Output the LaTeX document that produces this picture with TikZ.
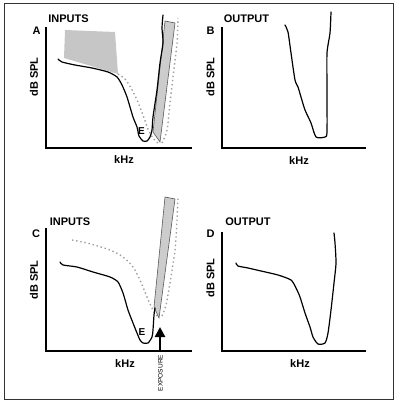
\documentclass[tikz,border=0pt]{standalone}
\usepackage{fontspec}
\setmainfont{Liberation Sans}
\usetikzlibrary{arrows.meta}
\tikzset{
  axis/.style={line width=1.4pt, black},
  curve/.style={line width=1.2pt, black, line join=round, line cap=round},
  dotline/.style={line width=1.4pt, gray!75, dash pattern=on 1.4pt off 2.8pt},
  band/.style={fill=gray!40, draw=gray!70!black, line width=0.6pt},
  patch/.style={fill=gray!45, draw=none},
  lbl/.style={font=\fontsize{11}{12}\selectfont\bfseries, inner sep=0pt},
  elbl/.style={font=\fontsize{10}{11}\selectfont\bfseries, inner sep=0pt},
  ylbl/.style={font=\fontsize{11}{12}\selectfont\bfseries, inner sep=0pt, rotate=90},
  exlbl/.style={font=\fontsize{6.5}{7}\selectfont, inner sep=0pt, rotate=90}
}
\begin{document}
\begin{tikzpicture}[x=1pt, y=-1pt]
\useasboundingbox (0,0) rectangle (398,404);
\draw[line width=0.9pt, black!80] (4,3) rectangle (393,399);

% ---------- Panel A ----------
\fill[patch] (65,30) -- (115,32) -- (118,74) -- (64,58) -- cycle;
\draw[dotline] plot[smooth, tension=0.5] coordinates {(118,74) (125,79) (131,88) (137,100) (143,115) (148,129) (153,138) (159,144)};
\draw[dotline] plot[smooth, tension=0.5] coordinates {(162,143) (167,130) (170,103) (173,77) (177,43) (178,18)};
\draw[band] (165,21) -- (175,23) -- (160,142) -- (153,132) -- cycle;
\draw[curve] plot[smooth, tension=0.4] coordinates {(58,59) (62,62) (75,65) (92,68) (108,72) (117,77) (122,85) (127,97) (133,117) (137,127) (139,136) (143,141) (147,141) (150,137) (152,130) (153,117) (157,90) (160,63) (163,43) (162,28) (163,15)};
\draw[axis] (46,27) -- (46,148) -- (192,148);
\node[lbl] (inA) at (68.5,18.5) {INPUTS};
\node[lbl] (lA) at (36.5,31) {A};
\node[ylbl] (yA) at (34,77) {dB SPL};
\node[lbl] (xA) at (124,160) {kHz};
\node[elbl] (eA) at (141.5,131.5) {E};

% ---------- Panel B ----------
\draw[curve] plot[smooth, tension=0.4] coordinates {(285,25) (288,32) (291,53) (295,80) (298,87) (301,97) (305,110) (311,123) (316,137) (325,137) (327,132) (327,90) (327,53) (330,33) (331,12)};
\draw[axis] (222,27) -- (222,148) -- (366,148);
\node[lbl] (outB) at (246.5,19) {OUTPUT};
\node[lbl] (lB) at (210.5,31) {B};
\node[ylbl] (yB) at (210.5,77) {dB SPL};
\node[lbl] (xB) at (299,161) {kHz};

% ---------- Panel C ----------
\draw[dotline] plot[smooth, tension=0.5] coordinates {(72,240) (87,243) (110,250) (123,257) (133,267) (140,280) (147,297) (153,310) (158,317)};
\draw[dotline] plot[smooth, tension=0.5] coordinates {(162,316) (166,305) (170,283) (175,250) (177,220) (178,198)};
\draw[band] (165,197) -- (175,199) -- (159,318) -- (154,307) -- cycle;
\draw[curve] plot[smooth, tension=0.4] coordinates {(60,262) (63,265) (77,267) (93,272) (110,277) (118,282) (123,293) (128,310) (133,323) (137,333) (140,340) (143,343) (148,343) (152,337) (153,330) (154,315) (155,308)};
\draw[axis] (46,228) -- (46,351) -- (192,351);
\node[lbl] (inC) at (70,222) {INPUTS};
\node[lbl] (lC) at (36,234) {C};
\node[ylbl] (yC) at (34,280) {dB SPL};
\node[lbl] (xC) at (125,364) {kHz};
\node[elbl] (eC) at (142,332) {E};
\coordinate (arB) at (160,350);
\coordinate (arT) at (160,327);
\draw[line width=2.6pt, -{Triangle[width=10pt,length=10pt]}] (arB) -- (arT);
\node[exlbl] (exC) at (160.5,373) {EXPOSURE};

% ---------- Panel D ----------
\draw[curve] plot[smooth, tension=0.4] coordinates {(236,263) (238,266) (248,268) (261,271) (278,275) (291,280) (296,288) (300,297) (305,313) (310,327) (313,337) (318,344) (325,343) (328,333) (331,310) (334,283) (336,263) (335,243) (334,233)};
\draw[axis] (222,232) -- (222,351) -- (366,351);
\node[lbl] (outD) at (248,222) {OUTPUT};
\node[lbl] (lD) at (210.5,234) {D};
\node[ylbl] (yD) at (210.5,278) {dB SPL};
\node[lbl] (xD) at (300,364) {kHz};
\end{tikzpicture}
\end{document}
